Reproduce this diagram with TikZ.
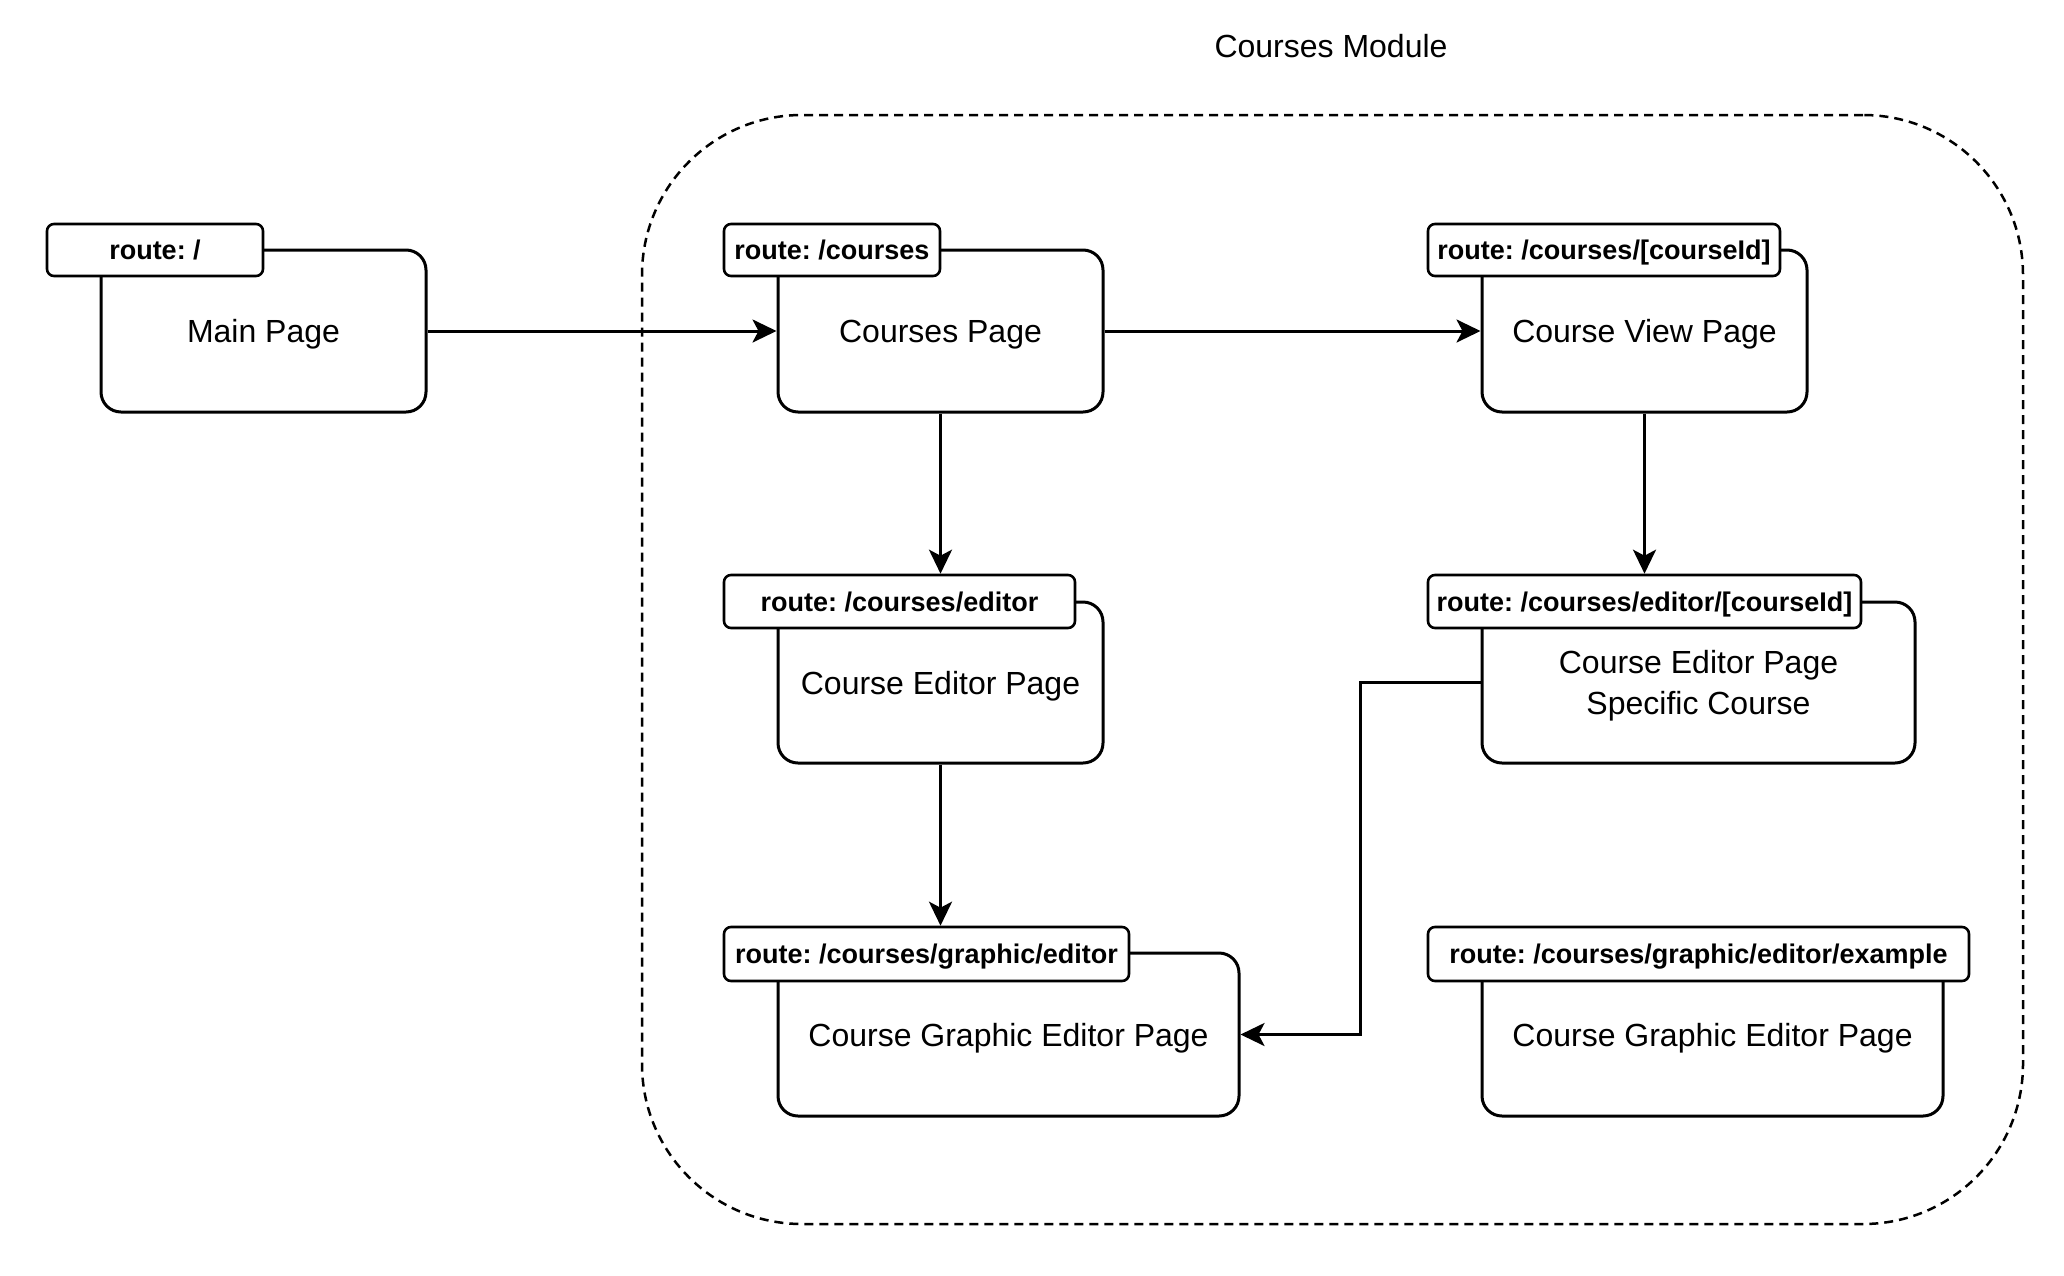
\documentclass[tikz,border=0pt]{standalone}
\usepackage{fontspec}
\setmainfont{Liberation Sans}
\usetikzlibrary{arrows.meta}
\frenchspacing
\begin{document}
\begin{tikzpicture}[x=1pt,y=-1pt,
  pagebox/.style={draw, line width=3pt, rounded corners=20pt, inner sep=0pt, fill=white,
    font=\fontsize{32}{41}\selectfont, align=center, text depth=0pt},
  tabbox/.style={draw, line width=2.6pt, rounded corners=7pt, fill=white, inner sep=0pt,
    font=\bfseries\fontsize{27}{32}\selectfont, text depth=0pt},
  arr/.style={line width=3pt, -{Stealth[length=24pt,width=23pt,inset=6pt]}},
  module/.style={draw, dash pattern=on 9pt off 6pt, line width=2.5pt, rounded corners=160pt, inner sep=0pt}
]
\frenchspacing
\useasboundingbox (0,0) rectangle (2064,1275);

% container
\node[module, minimum width=1381pt, minimum height=1109pt] (mod) at (1332.5,669.5) {};
\node[font=\fontsize{32}{38}\selectfont] (title) at (1331,46) {Courses Module};

% boxes
\node[pagebox, minimum width=325pt, minimum height=162pt] (main) at (263.5,331) {Main Page};
\node[pagebox, minimum width=325pt, minimum height=162pt] (courses) at (940.5,331) {Courses Page};
\node[pagebox, minimum width=325pt, minimum height=162pt] (view) at (1644.5,331) {Course View Page};
\node[pagebox, minimum width=325pt, minimum height=161pt] (editor) at (940.5,682.5) {Course Editor Page};
\node[pagebox, minimum width=433pt, minimum height=161pt] (spec) at (1698.5,682.5) {Course Editor Page\\Specific Course};
\node[pagebox, minimum width=461pt, minimum height=163pt] (graphic) at (1008.5,1034.5) {Course Graphic Editor Page};
\node[pagebox, minimum width=461pt, minimum height=163pt] (example) at (1712.5,1034.5) {Course Graphic Editor Page};

% tabs
\node[tabbox, minimum width=216pt, minimum height=52pt] (maintab) at (155,250) {route: /};
\node[tabbox, minimum width=216pt, minimum height=52pt] (coursestab) at (832,250) {route: /courses};
\node[tabbox, minimum width=352pt, minimum height=52pt] (viewtab) at (1604,250) {route: /courses/[courseId]};
\node[tabbox, minimum width=351pt, minimum height=53pt] (editortab) at (899.5,601.5) {route: /courses/editor};
\node[tabbox, minimum width=433pt, minimum height=53pt] (spectab) at (1644.5,601.5) {route: /courses/editor/[courseId]};
\node[tabbox, minimum width=405pt, minimum height=54pt] (graphictab) at (926.5,954) {route: /courses/graphic/editor};
\node[tabbox, minimum width=541pt, minimum height=54pt] (exampletab) at (1698.5,954) {route: /courses/graphic/editor/example};

% connectors
\coordinate (bend) at (1360,682.5);
\draw[arr] (main.east) -- (courses.west);
\draw[arr] (courses.east) -- (view.west);
\draw[arr] (courses.south) -- (courses.south |- editortab.north);
\draw[arr] (view.south) -- (view.south |- spectab.north);
\draw[arr] (editor.south) -- (editor.south |- graphictab.north);
\draw[arr] (spec.west) -- (bend) |- (graphic.east);
\end{tikzpicture}
\end{document}
